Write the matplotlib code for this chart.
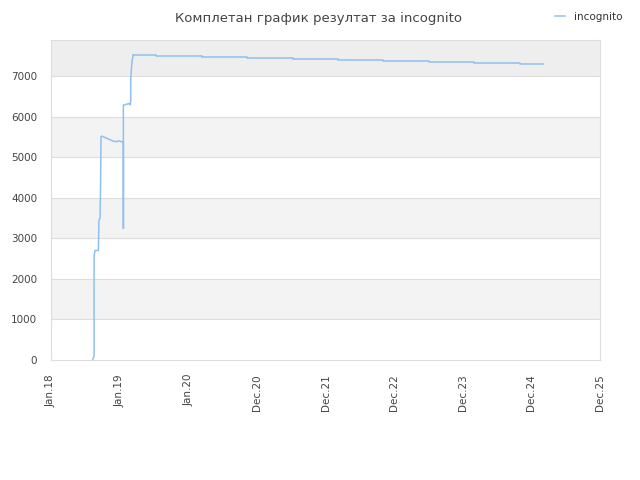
import datetime as dt
import numpy as np
import matplotlib.pyplot as plt
import matplotlib.dates as mdates

start = dt.datetime(2018, 1, 1)

# early part of the curve (days after 1 Jan 2018, score)
rise_days = [222, 229, 229, 234, 252, 255, 261, 264, 266, 271, 290, 310,
             330, 340, 350, 355, 365, 376, 385, 385, 385, 417, 421, 424,
             424, 429, 432, 438]
rise_vals = [20, 100, 2545, 2700, 2700, 3450, 3500, 4440, 5505, 5520, 5480,
             5440, 5400, 5390, 5380, 5400, 5400, 5380, 5380, 3245, 6285, 6325,
             6290, 6370, 6940, 7270, 7395, 7525]

# plateau, stepping down slowly
step_days = [438, 559, 803, 1043, 1287, 1527, 1766, 2011, 2250, 2495, 2617]
step_vals = [7525, 7500, 7476, 7451, 7427, 7402, 7377, 7353, 7328, 7303, 7303]

tick_days = np.arange(0, 2921, 365)
band_edges = [0, 1000, 2000, 3000, 4000, 5000, 6000, 7000, 7890]

line_col = '#90c0f0'

fig = plt.figure(figsize=(6.4, 4.8), dpi=100)
ax = fig.add_axes([51/640, 1 - 360/480, 549/640, 320/480])

to_date = lambda d: [start + dt.timedelta(days=int(x)) for x in d]

# alternating background bands
for i in range(len(band_edges) - 1):
    if i % 2 == 1:
        c = '#eeeeee' if i == 7 else '#f3f3f3'
        ax.axhspan(band_edges[i], band_edges[i + 1], color=c, zorder=0, lw=0)
for y in band_edges[1:-1]:
    ax.axhline(y, color='#dddddd', lw=0.8, zorder=1)

ax.plot(to_date(rise_days), rise_vals, color=line_col, lw=1.1, zorder=3,
        label='incognito')
ax.step(to_date(step_days), step_vals, where='post', color=line_col, lw=1.1,
        zorder=3)

ax.set_xlim(to_date([0])[0], to_date([2920])[0])
ax.set_ylim(0, 7890)
ax.set_xticks(to_date(tick_days))
ax.xaxis.set_major_formatter(mdates.DateFormatter('%b.%y'))
ax.set_yticks(range(0, 7001, 1000))
ax.tick_params(axis='both', length=0, labelsize=7.5, colors='#444444')
ax.tick_params(axis='x', rotation=90, pad=10)
ax.tick_params(axis='y', pad=10)
for s in ax.spines.values():
    s.set_color('#dddddd')

fig.text(0.497, 0.975, 'Комплетан график резултат за incognito',
         ha='center', va='top', fontsize=9.5, color='#444444')
fig.legend(loc='upper right', bbox_to_anchor=(0.988, 0.995), frameon=False,
           fontsize=7.5, handlelength=1.0, handletextpad=0.9,
           labelcolor='#333333')

fig.savefig('out.png')
